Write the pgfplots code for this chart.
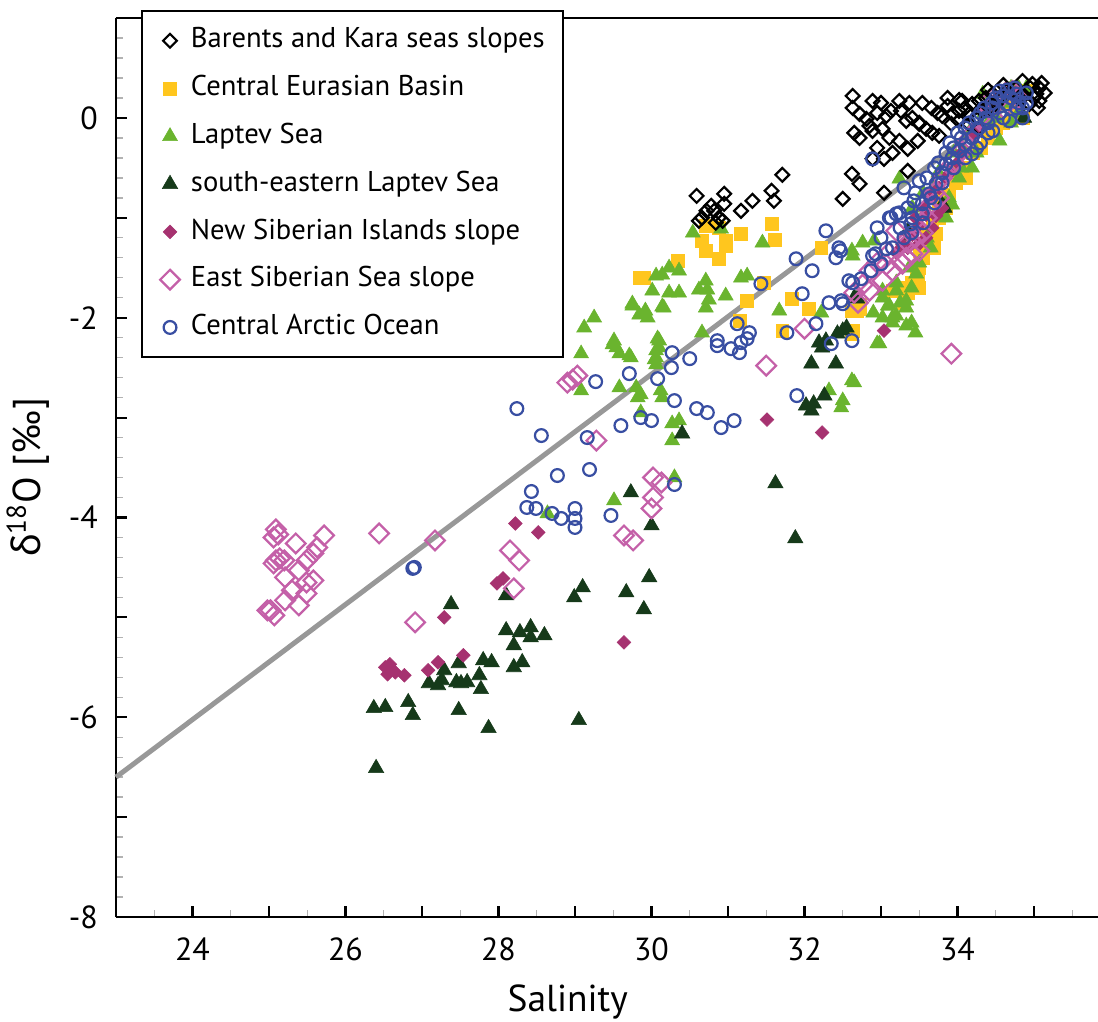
\documentclass[border=0pt]{standalone}
\usepackage{fontspec}
\setmainfont{PT Sans}
\newfontfamily\gfont{Noto Sans}
\usepackage{pgfplots}
\pgfplotsset{compat=1.18}
\definecolor{cyel}{RGB}{255,198,30}
\definecolor{cgrn}{RGB}{106,180,46}
\definecolor{cdkg}{RGB}{22,58,26}
\definecolor{cmag}{RGB}{166,50,112}
\definecolor{cpnk}{RGB}{196,96,168}
\definecolor{cblu}{RGB}{56,78,162}
\definecolor{cgry}{RGB}{152,152,152}
\pgfplotsset{
  sBar/.style={color=black, mark=square, mark size=1.75pt, mark options={rotate=45, draw=black, line width=0.8pt}},
  sYel/.style={color=cyel, mark=square*, mark size=2.3pt, mark options={draw=cyel, fill=cyel, line width=0.2pt}},
  sGrn/.style={color=cgrn, mark=triangle*, mark size=3.1pt, mark options={draw=cgrn, fill=cgrn, line width=0.2pt}},
  sDkg/.style={color=cdkg, mark=triangle*, mark size=3.2pt, mark options={draw=cdkg, fill=cdkg, line width=0.2pt}},
  sMag/.style={color=cmag, mark=square*, mark size=1.75pt, mark options={rotate=45, draw=cmag, fill=cmag, line width=0.2pt}},
  sPnk/.style={color=cpnk, mark=square, mark size=2.5pt, mark options={rotate=45, draw=cpnk, line width=0.8pt}},
  sBlu/.style={color=cblu, mark=o, mark size=2.3pt, mark options={draw=cblu, line width=0.8pt}},
}
\begin{document}
\begin{tikzpicture}
\useasboundingbox (-41.76pt,-37.44pt) rectangle (353.52pt,330.12pt);
\begin{axis}[
  scale only axis, width=353.52pt, height=323.64pt,
  xmin=23, xmax=35.837, ymin=-8, ymax=1,
  clip=false,
  axis x line*=bottom, axis y line*=left,
  axis line style={line width=1pt, -},
  tick align=inside,
  xtick={23,...,35}, xticklabels={,24,,26,,28,,30,,32,,34,},
  ytick={-8,...,1}, yticklabels={-8,,-6,,-4,,-2,,0,},
  minor xtick={23.5,24.5,...,35.5},
  minor ytick={-7.8,-7.6,...,0.9},
  major tick length=4pt, minor tick length=2.5pt,
  every major tick/.append style={line width=0.75pt, black},
  every minor tick/.append style={line width=0.5pt, black!30},
  tick label style={font=\fontsize{11.5}{13}\selectfont},
  xticklabel style={yshift=-4pt},
  yticklabel style={xshift=-3pt},
  /pgf/number format/assume math mode=true,
  xlabel={Salinity},
  ylabel={{\gfont δ}\textsuperscript{18}O [‰]},
  xlabel style={at={(axis description cs:0.46,-0.0945)}, anchor=center, font=\fontsize{13.5}{15}\selectfont},
  ylabel style={at={(axis description cs:-0.0896,0.489)}, anchor=center, font=\fontsize{14}{16}\selectfont},
  legend image code/.code={\draw[#1] plot coordinates {(0pt,0pt)};},
  legend cell align=left,
  legend style={at={(axis description cs:0.0255,1.009)}, anchor=north west, draw=black, line width=0.8pt, fill=white,
    font=\fontsize{10.3}{12}\selectfont, inner xsep=6.5pt, inner ysep=5.8pt, row sep=7.4pt, column sep=4pt,
    nodes={inner sep=0pt, text height=7.5pt, text depth=2.3pt}},
]
\addlegendimage{sBar}\addlegendentry{Barents and Kara seas slopes}
\addlegendimage{sYel}\addlegendentry{Central Eurasian Basin}
\addlegendimage{sGrn}\addlegendentry{Laptev Sea}
\addlegendimage{sDkg}\addlegendentry{south-eastern Laptev Sea}
\addlegendimage{sMag}\addlegendentry{New Siberian Islands slope}
\addlegendimage{sPnk}\addlegendentry{East Siberian Sea slope}
\addlegendimage{sBlu}\addlegendentry{Central Arctic Ocean}

\draw[line width=1pt] (rel axis cs:0,1) -- (rel axis cs:1,1);
\addplot[forget plot, color=cgry, line width=1.8pt] coordinates {(23,-6.6)(34.8,0.2)};

\addplot[forget plot, only marks, sYel] coordinates {
(30.71,-1.08)(30.88,-1.10)(30.66,-1.23)(30.97,-1.23)(30.97,-1.28)(30.71,-1.33)(30.88,-1.41)(31.17,-1.16)(31.57,-1.06)(31.61,-1.22)(30.34,-1.43)(29.84,-1.60)(29.90,-1.60)(31.47,-1.65)(31.25,-1.83)(31.83,-1.81)(32.06,-1.91)(31.15,-2.03)(31.71,-2.13)(32.22,-1.30)(32.62,-1.93)(32.62,-2.16)(32.69,-1.93)(34.06,-0.50)(33.98,-0.65)(33.89,-0.77)(33.76,-0.93)(33.67,-1.07)(33.63,-1.23)(33.50,-1.33)(33.46,-1.57)(33.24,-1.70)(34.85,0.00)(34.90,0.27)(32.72,-1.87)(33.76,-1.00)(33.72,-1.16)(33.69,-1.30)(33.50,-1.50)(33.48,-1.56)(33.28,-1.73)(33.15,-1.73)(32.72,-1.91)(32.63,-2.13)(33.85,-0.90)(34.11,-0.60)(34.30,-0.30)(34.50,-0.10)(34.70,0.15)(33.35,-1.75)
(33.55,-1.40)(33.60,-1.15)(33.80,-0.80)(33.95,-0.55)(34.20,-0.35)(34.40,-0.20)(34.60,-0.05)(34.75,0.10)(33.40,-1.65)(33.30,-1.85)(33.50,-1.70)(34.65,0.25)
};
\addplot[forget plot, only marks, sGrn] coordinates {
(30.54,-1.15)(30.91,-1.11)(31.45,-1.25)(30.23,-1.50)(30.36,-1.53)(30.06,-1.58)(30.14,-1.57)(30.71,-1.63)(30.73,-1.72)(30.75,-1.82)(30.71,-1.90)(30.62,-1.72)(31.17,-1.60)(31.25,-1.58)(30.97,-1.78)(30.01,-1.73)(30.23,-1.75)(30.36,-1.75)(29.75,-1.86)(29.84,-1.97)(29.92,-1.93)(29.95,-2.00)(30.14,-1.89)(29.25,-2.00)(29.12,-2.10)(29.51,-2.23)(29.54,-2.30)(29.73,-2.40)(29.08,-2.36)(30.06,-2.33)(30.10,-2.23)(30.04,-2.42)(30.06,-2.47)(29.58,-2.70)(29.80,-2.70)(29.82,-2.80)(30.14,-2.80)(31.67,-1.93)(32.22,-1.95)(30.66,-2.15)(32.62,-1.33)(32.50,-2.83)(32.62,-2.63)(30.27,-3.06)(30.27,-3.23)(30.36,-3.03)(30.30,-3.60)(32.95,-2.26)(32.65,-2.65)(32.48,-2.90)(32.32,-2.73)(33.33,-1.90)(33.33,-2.08)(33.15,-2.05)(33.20,-1.98)(33.09,-1.88)(29.75,-1.88)(30.16,-1.90)(29.49,-2.27)(29.71,-2.38)(29.58,-2.36)(30.08,-2.21)(30.10,-2.30)(30.06,-2.40)(29.08,-2.73)(29.86,-2.77)(30.12,-2.73)(29.86,-2.95)(29.51,-3.83)(28.64,-3.96)(34.33,0.24)(34.55,-0.23)(34.19,-0.50)(34.02,-0.60)(33.89,-0.80)(33.24,-0.61)(33.41,-0.90)(33.59,-0.93)(32.76,-1.25)(32.91,-1.23)(32.63,-1.38)(33.37,-1.50)(33.46,-1.56)(33.02,-1.73)(33.20,-1.73)(33.33,-1.83)(33.85,-1.00)(33.93,-0.87)(33.02,-1.80)(33.11,-1.88)(33.15,-2.00)(33.02,-2.00)(32.98,-2.26)(33.20,-1.65)(34.60,0.15)(34.80,0.30)(34.40,-0.05)(34.70,-0.05)(34.10,-0.35)(33.70,-0.70)(33.60,-1.20)
(33.55,-0.75)(33.75,-0.55)(33.95,-0.35)(34.15,-0.15)(34.35,0.05)(34.50,0.00)(34.25,-0.35)(34.05,-0.50)(33.80,-0.95)(33.65,-1.30)(33.50,-1.45)(33.40,-1.70)(33.25,-1.85)(32.90,-1.95)(33.40,-2.05)(33.45,-2.15)(34.70,0.30)(34.90,0.30)(34.80,0.05)
};
\addplot[forget plot, only marks, sDkg] coordinates {
(27.38,-4.87)(28.10,-4.78)(28.99,-4.80)(29.10,-4.70)(29.67,-4.75)(29.97,-4.60)(29.90,-4.92)(28.10,-5.13)(28.28,-5.15)(28.42,-5.10)(28.60,-5.18)(28.20,-5.28)(28.42,-5.20)(28.31,-5.45)(28.20,-5.50)(27.80,-5.43)(27.91,-5.45)(27.75,-5.58)(27.77,-5.72)(27.48,-5.46)(27.29,-5.53)(27.26,-5.63)(27.09,-5.66)(27.21,-5.68)(27.45,-5.65)(27.51,-5.66)(27.59,-5.65)(26.37,-5.91)(26.52,-5.90)(26.82,-5.85)(26.88,-5.98)(27.48,-5.93)(27.87,-6.11)(29.05,-6.03)(26.40,-6.51)(29.73,-3.75)(30.00,-4.08)(30.40,-3.16)(32.28,-2.23)(32.43,-2.16)(32.55,-2.10)(32.23,-2.30)(32.09,-2.46)(32.41,-2.46)(32.02,-2.88)(32.12,-2.86)(32.26,-2.78)(32.65,-1.80)(32.19,-2.25)(32.09,-2.93)(31.62,-3.66)(31.88,-4.21)(33.83,-0.90)(33.37,-1.18)(32.69,-1.81)(32.50,-2.13)(33.35,-1.13)(33.80,-0.87)(34.87,0.00)
};
\addplot[forget plot, only marks, sMag] coordinates {
(28.22,-4.06)(28.52,-4.15)(27.98,-4.66)(28.06,-4.61)(27.29,-5.00)(27.54,-5.38)(27.21,-5.45)(27.08,-5.53)(26.52,-5.50)(26.58,-5.47)(26.65,-5.55)(26.77,-5.58)(26.55,-5.57)(29.64,-5.25)(31.51,-3.02)(32.23,-3.15)(33.04,-2.13)(33.67,-0.80)(33.59,-0.97)(33.50,-1.07)(33.41,-1.17)(33.28,-1.27)(33.76,-0.70)(34.64,0.30)(33.50,-1.26)(33.59,-1.20)(33.67,-1.10)(33.72,-0.98)(33.80,-0.90)(33.90,-0.55)(34.00,-0.45)(34.20,-0.20)
(33.45,-1.00)(33.55,-0.90)(33.65,-0.75)(33.85,-0.60)(34.05,-0.35)(34.30,-0.10)(34.50,0.10)(34.75,0.25)(33.35,-1.30)(33.20,-1.35)
};
\addplot[forget plot, only marks, sPnk] coordinates {
(25.09,-4.12)(25.12,-4.17)(25.06,-4.20)(25.09,-4.43)(25.14,-4.41)(25.06,-4.46)(25.20,-4.43)(25.35,-4.26)(25.72,-4.18)(25.58,-4.36)(25.63,-4.30)(25.49,-4.43)(25.21,-4.60)(25.39,-4.53)(25.58,-4.63)(25.30,-4.73)(25.49,-4.76)(25.39,-4.88)(25.21,-4.83)(24.98,-4.93)(25.07,-4.98)(25.02,-4.93)(25.49,-4.65)(26.44,-4.16)(27.17,-4.23)(26.91,-5.05)(28.15,-4.33)(28.27,-4.43)(28.20,-4.71)(29.64,-4.18)(29.76,-4.23)(30.00,-3.91)(28.90,-2.65)(28.97,-2.62)(29.03,-2.58)(29.28,-3.23)(30.02,-3.60)(30.13,-3.65)(30.02,-3.80)(31.50,-2.48)(32.00,-2.11)(33.92,-2.36)(33.50,-1.33)(33.33,-1.40)(33.07,-1.47)(32.85,-1.53)(32.76,-1.67)(33.20,-1.13)(33.76,-0.80)(33.85,-0.53)(34.06,-0.33)(34.46,0.20)(34.72,0.27)(32.85,-1.73)(33.02,-1.63)(33.15,-1.53)(33.28,-1.46)(33.41,-1.36)(33.60,-1.00)(34.20,-0.15)(34.60,0.10)
(33.60,-0.90)(33.70,-0.75)(33.80,-0.60)(33.95,-0.45)(34.10,-0.25)(34.30,0.00)(34.40,0.10)(34.50,0.15)(34.80,0.20)(33.45,-1.20)(33.35,-1.25)(33.55,-1.15)(33.10,-1.35)(32.95,-1.45)(32.65,-1.75)(32.70,-1.85)
};
\addplot[forget plot, only marks, sBar] coordinates {
(30.59,-0.78)(30.95,-0.76)(30.78,-0.88)(30.72,-0.93)(30.82,-0.93)(30.95,-0.86)(31.17,-0.93)(31.32,-0.83)(31.57,-0.73)(31.60,-0.83)(31.71,-0.57)(30.62,-1.03)(30.88,-1.00)(30.84,-1.05)(30.93,-1.03)(30.66,-1.00)(32.50,-0.81)(32.62,-0.56)(32.72,-0.66)(33.04,-0.75)(33.35,-0.53)(32.89,-0.41)(33.04,-0.41)(32.63,0.22)(32.89,0.17)(33.00,0.15)(33.24,0.17)(33.37,0.15)(33.54,0.15)(33.87,0.20)(34.02,0.18)(32.63,0.10)(32.72,0.04)(32.81,-0.01)(32.95,0.05)(33.07,0.02)(33.13,0.07)(33.26,0.07)(33.33,-0.03)(33.41,0.00)(33.50,-0.05)(33.66,0.10)(33.74,0.05)(33.80,0.02)(33.87,0.12)(33.93,0.04)(34.02,0.07)(34.10,0.10)(34.19,0.14)(34.28,0.17)(34.37,0.20)(32.85,-0.08)(32.89,-0.13)(33.02,-0.11)(33.11,-0.20)(33.24,-0.23)(33.35,-0.31)(32.65,-0.15)(32.72,-0.20)(33.50,-0.06)(33.59,-0.11)(33.67,-0.15)(33.76,-0.18)(33.48,-0.23)(34.85,0.37)(34.98,0.34)(35.07,0.30)(35.14,0.25)(35.03,0.24)(34.90,0.27)(34.77,0.30)(34.64,0.27)(34.55,0.20)(34.46,0.24)(34.80,0.20)(35.07,0.17)(34.94,0.14)(34.06,0.17)(34.15,0.04)(34.24,0.00)(34.33,0.07)(34.42,0.10)(34.50,0.14)(34.15,-0.06)(34.28,-0.10)(34.02,-0.03)(33.92,-0.06)(34.60,0.33)(35.00,0.20)(35.10,0.35)(34.95,0.30)(34.85,0.22)(34.40,0.28)(35.05,0.10)(33.15,-0.35)(32.95,-0.30)
};
\addplot[forget plot, only marks, sBlu] coordinates {
(26.88,-4.51)(26.90,-4.50)(28.24,-2.91)(28.56,-3.18)(29.16,-3.20)(29.60,-3.08)(29.86,-3.00)(30.00,-3.03)(28.77,-3.58)(29.19,-3.52)(28.43,-3.74)(28.37,-3.90)(28.49,-3.91)(28.70,-3.96)(28.82,-4.01)(29.00,-3.91)(29.00,-4.01)(29.00,-4.10)(29.47,-3.98)(30.30,-3.67)(29.27,-2.64)(29.71,-2.56)(30.08,-2.61)(30.27,-2.35)(30.26,-2.50)(30.30,-2.83)(32.28,-1.13)(32.45,-1.30)(32.41,-1.40)(31.89,-1.41)(32.10,-1.53)(31.43,-1.66)(31.97,-1.76)(32.32,-1.85)(32.48,-1.83)(32.50,-1.86)(32.58,-1.63)(31.12,-2.06)(31.28,-2.15)(31.25,-2.21)(31.17,-2.25)(31.04,-2.31)(30.86,-2.28)(30.86,-2.23)(31.15,-2.35)(31.77,-2.15)(32.15,-2.06)(32.35,-2.26)(32.62,-2.23)(30.50,-2.41)(30.59,-2.91)(30.73,-2.95)(30.91,-3.10)(31.08,-3.03)(31.90,-2.78)(33.50,-0.63)(33.80,-0.55)(33.65,-0.80)(33.43,-0.83)(33.54,-0.96)(33.24,-0.95)(33.13,-1.00)(33.39,-1.06)(33.15,-1.30)(33.07,-1.31)(32.93,-1.36)(32.89,-1.38)(33.00,-1.46)(32.87,-1.53)(32.74,-1.61)(32.63,-1.65)(32.47,-1.33)(34.77,0.24)(34.64,0.14)(34.55,0.27)(34.46,0.10)(34.37,0.00)(34.28,-0.10)(34.19,-0.20)(34.10,-0.27)(34.02,-0.33)(34.19,-0.36)(33.93,-0.40)(33.85,-0.46)(33.72,-0.66)(33.63,-0.76)(33.54,-0.86)(33.41,-1.00)(33.20,-0.96)(33.11,-1.00)(34.68,-0.03)(34.85,0.00)(34.77,0.10)(34.46,-0.13)(32.89,-0.41)(34.90,0.15)(34.60,0.00)(34.30,-0.25)(34.00,-0.15)(33.95,-0.30)(34.40,-0.05)
(33.30,-0.70)(33.45,-0.75)(33.60,-0.60)(33.70,-0.50)(33.75,-0.45)(33.85,-0.35)(33.90,-0.25)(34.05,-0.20)(34.10,-0.10)(34.15,-0.05)(34.25,0.00)(34.30,0.05)(34.35,0.10)(34.45,0.15)(34.50,0.20)(34.60,0.22)(34.65,0.28)(34.70,0.20)(34.75,0.30)(34.80,0.15)(34.85,0.10)(34.90,0.25)(34.55,0.05)(34.40,-0.15)(34.25,-0.30)(34.10,-0.40)(33.95,-0.50)(33.80,-0.65)(33.70,-0.85)(33.55,-1.05)(33.40,-1.15)(33.30,-1.20)(33.25,-1.10)(33.00,-1.20)(32.95,-1.10)(33.35,-0.90)
};
\end{axis}
\end{tikzpicture}
\end{document}
